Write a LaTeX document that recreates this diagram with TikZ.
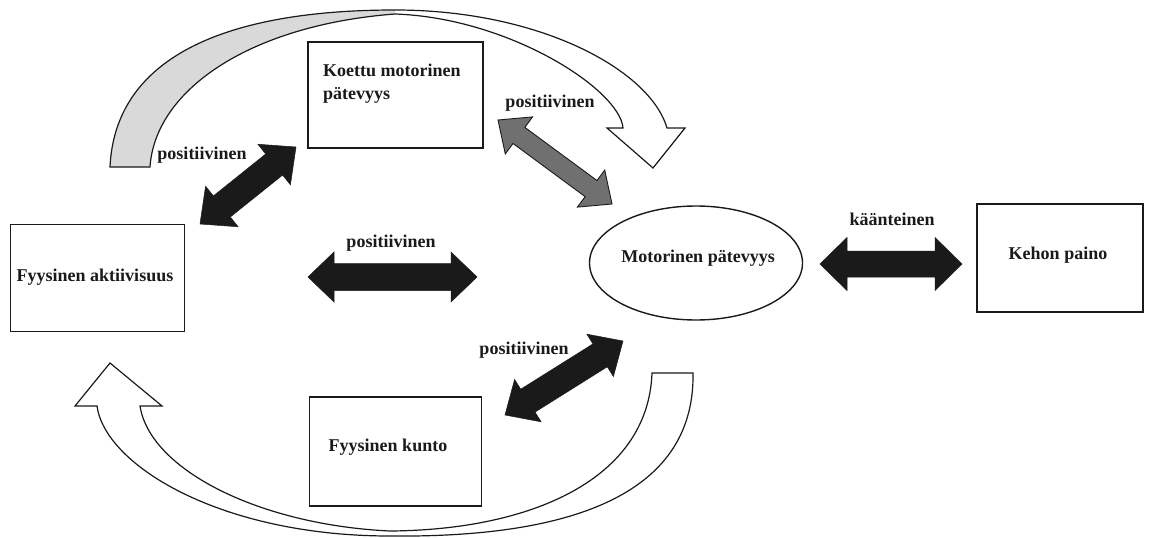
\documentclass[tikz,border=0pt]{standalone}
\usepackage{fontspec}
\setmainfont{Liberation Serif}
\usetikzlibrary{calc,shapes.geometric}
\definecolor{arcgray}{RGB}{217,217,217}
\definecolor{midgray}{RGB}{112,112,112}
\definecolor{ink}{RGB}{26,26,26}
% #1 style, #2 from, #3 to, #4 shaft half width, #5 head half width, #6 head length
\newcommand{\blockarrow}[6]{%
  \path ($(#2)!#6!(#3)$) coordinate (ba1) ($(#3)!#6!(#2)$) coordinate (ba2);
  \draw[#1] (#2) -- ($(ba1)!#5!90:(#3)$) -- ($(ba1)!#4!90:(#3)$)
    -- ($(ba2)!#4!-90:(#2)$) -- ($(ba2)!#5!-90:(#2)$) -- (#3)
    -- ($(ba2)!#5!90:(#2)$) -- ($(ba2)!#4!90:(#2)$)
    -- ($(ba1)!#4!-90:(#3)$) -- ($(ba1)!#5!-90:(#3)$) -- cycle;}
\begin{document}
\begin{tikzpicture}[x=1pt,y=-1pt,
  box/.style={draw=ink,line width=1.6pt,rectangle,fill=white,inner sep=0pt},
  oval/.style={draw=ink,line width=1.4pt,ellipse,fill=white,inner sep=0pt},
  txt/.style={font=\fontsize{18}{23}\selectfont\bfseries,inner sep=0pt,text=ink},
  curved/.style={draw=ink,line width=1.2pt,line join=miter},
  blackarrow/.style={fill=ink,draw=ink,line width=0.5pt},
  grayarrow/.style={fill=midgray,draw=ink,line width=0.9pt}]
\useasboundingbox (0,0) rectangle (1151,538);

% top curved arrow
\path[curved,fill=arcgray] (395,10) .. controls (220,10) and (115,60) .. (110,167)
  -- (150,167) .. controls (155,90) and (250,25) .. (395,14);
\path[curved,fill=white] (395,14) .. controls (510,18) and (620,90) .. (623,128)
  -- (607,128) -- (653,168) -- (685,128) -- (667,128)
  .. controls (650,70) and (540,10) .. (395,10);

% bottom curved arrow
\path[curved,fill=white] (652,373) -- (693,373) .. controls (695,490) and (580,538) .. (390,536)
  .. controls (220,536) and (105,465) .. (97,406) -- (75,406) -- (110,363) -- (162,406) -- (140,406)
  .. controls (150,470) and (260,525) .. (390,531)
  .. controls (530,530) and (648,480) .. (652,373) -- cycle;

% nodes
\node[box,minimum width=175pt,minimum height=106pt] (koettu) at (395.5,95) {};
\node[txt,anchor=north west,align=left] (koettutxt) at (323,64) {Koettu motorinen\\pätevyys};
\node[box,minimum width=174pt,minimum height=107pt] (akt) at (97.5,278) {};
\node[txt] (akttxt) at (95,277) {Fyysinen aktiivisuus};
\node[box,minimum width=172pt,minimum height=109pt] (kunto) at (395.5,451.5) {};
\node[txt] (kuntotxt) at (388,447) {Fyysinen kunto};
\node[oval,minimum width=213pt,minimum height=114pt] (motor) at (696,263) {};
\node[txt] (motortxt) at (698,258) {Motorinen pätevyys};
\node[box,minimum width=166pt,minimum height=108pt] (kehon) at (1060,258) {};
\node[txt] (kehontxt) at (1058,255) {Kehon paino};

% block arrows
\coordinate (a1s) at (200,224); \coordinate (a1e) at (296,147);
\coordinate (a2s) at (308,277); \coordinate (a2e) at (477,277);
\coordinate (a3s) at (498,120); \coordinate (a3e) at (612,204);
\coordinate (a4s) at (505,415); \coordinate (a4e) at (623,341);
\coordinate (a5s) at (820,264); \coordinate (a5e) at (962,264);
\blockarrow{blackarrow}{a1s}{a1e}{13.5pt}{26pt}{28pt}
\blockarrow{blackarrow}{a2s}{a2e}{13.5pt}{25pt}{26pt}
\blockarrow{grayarrow}{a3s}{a3e}{10pt}{23pt}{26pt}
\blockarrow{blackarrow}{a4s}{a4e}{13.5pt}{25pt}{27pt}
\blockarrow{blackarrow}{a5s}{a5e}{13pt}{26.5pt}{27pt}

% labels
\node[txt] (l1) at (202,155) {positiivinen};
\node[txt] (l2) at (550,103) {positiivinen};
\node[txt] (l3) at (391,243) {positiivinen};
\node[txt] (l4) at (524,350) {positiivinen};
\node[txt] (l5) at (892,219) {käänteinen};
\end{tikzpicture}
\end{document}
